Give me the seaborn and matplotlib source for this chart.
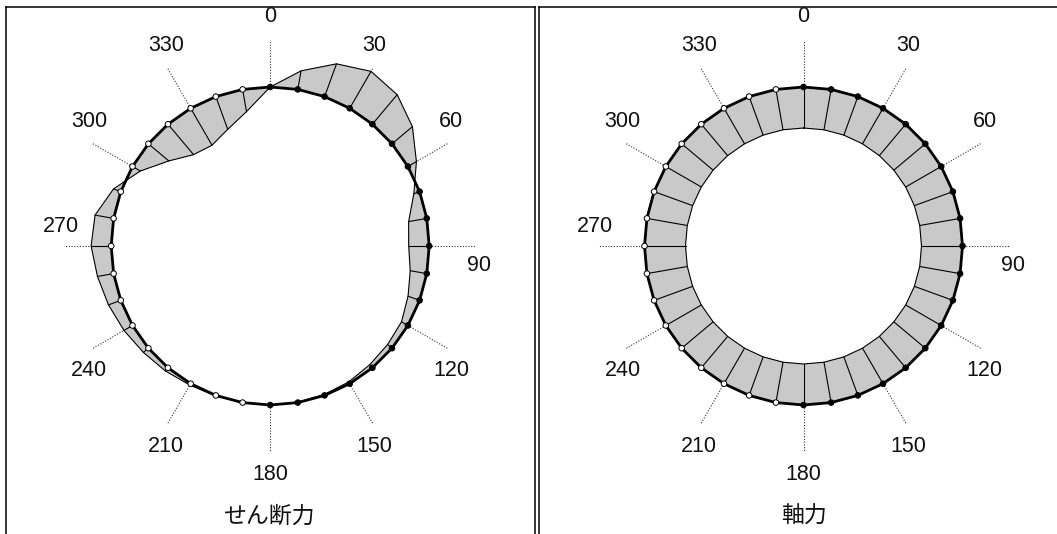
import numpy as np
import pandas as pd
import matplotlib
matplotlib.use("Agg")
import matplotlib.pyplot as plt
import seaborn as sns

# angle around the member section, degrees clockwise from top
angles = [0, 10, 20, 30, 40, 50, 60, 70, 80, 90, 100, 110,
          120, 130, 140, 150, 160, 170, 180, 190, 200, 210, 220, 230,
          240, 250, 260, 270, 280, 290, 300, 310, 320, 330, 340, 350]

# shear force (せん断力)
shear = [0.0, 4.6, 8.5, 10.4, 9.4, 6.5, 2.4, -1.5, -4.5, -5.0, -4.1, -3.0,
         -1.8, -1.4, -1.0, -0.5, -0.25, -0.1, 0.0, 0.05, 0.15, 0.4, 1.0, 1.6,
         2.4, 3.2, 4.0, 4.9, 4.6, 1.9, -2.2, -6.5, -9.7, -10.4, -8.5, -5.5]

# axial force (軸力)
axial = [-10.0, -10.0, -10.0, -10.0, -10.0, -10.0, -10.0, -10.0, -10.0, -10.0, -10.0, -10.0,
         -10.0, -10.0, -10.0, -10.0, -10.0, -10.0, -10.0, -10.0, -10.0, -10.0, -10.0, -10.0,
         -10.0, -10.0, -10.0, -10.0, -10.0, -10.0, -10.0, -10.0, -10.0, -10.0, -10.0, -10.0]

tick_angles = [0, 30, 60, 90, 120, 150, 180, 210, 240, 270, 300, 330]
tick_labels = ["0", "30", "60", "90", "120", "150", "180", "210", "240", "270", "300", "330"]
titles = ["せん断力", "軸力"]

# layout (pixels)
FIG_W, FIG_H = 1057, 534
BASE_R = 159.0      # radius of the reference circle
SCALE = 4.1         # px per force unit
TICK_R = 205.0
LABEL_R = 209.0
LABEL_DY = 20.0
BOX_W = 529.0
BOX_TOP = 7.3
CENTER_Y = 246.0
BOX_LEFTS = [5.7, 539.0]
GRAY = "#c9c9c9"

sns.set_theme(style="white")
plt.rcParams["font.family"] = ["Liberation Sans", "Noto Sans CJK JP", "DejaVu Sans"]


def ring_points(values):
    a = np.radians(np.array(angles, dtype=float))
    v = np.array(values, dtype=float)
    base = np.column_stack([BASE_R * np.sin(a), BASE_R * np.cos(a)])
    r_off = BASE_R + v * SCALE
    off = np.column_stack([r_off * np.sin(a), r_off * np.cos(a)])
    return base, off


def draw_panel(fig, left_px, values, title):
    bottom_px = FIG_H + 20
    height_px = bottom_px - BOX_TOP
    ax = fig.add_axes([left_px / FIG_W, (FIG_H - bottom_px) / FIG_H,
                       BOX_W / FIG_W, height_px / FIG_H])
    cx = BOX_W / 2
    top = CENTER_Y - BOX_TOP

    base, off = ring_points(values)
    n = len(angles)

    # dotted guide lines every 30 degrees
    for a in tick_angles:
        t = np.radians(a)
        ax.plot([BASE_R * np.sin(t), TICK_R * np.sin(t)],
                [BASE_R * np.cos(t), TICK_R * np.cos(t)],
                color="#333333", lw=0.8, ls=(0, (1, 1.5)), zorder=1)

    # gray band between reference circle and force curve
    for i in range(n):
        j = (i + 1) % n
        quad = np.array([base[i], base[j], off[j], off[i]])
        ax.fill(quad[:, 0], quad[:, 1], color=GRAY, lw=0, antialiased=True, zorder=2)

    # radial segments
    for i in range(n):
        ax.plot([base[i, 0], off[i, 0]], [base[i, 1], off[i, 1]],
                color="black", lw=0.8, zorder=3)

    # force curve
    loop = np.vstack([off, off[:1]])
    ax.plot(loop[:, 0], loop[:, 1], color="black", lw=0.8, zorder=3)

    # reference circle
    loop = np.vstack([base, base[:1]])
    ax.plot(loop[:, 0], loop[:, 1], color="black", lw=2.0, zorder=4,
            solid_joinstyle="round")

    df = pd.DataFrame({"x": base[:, 0], "y": base[:, 1],
                       "side": ["right" if a <= 180 else "left" for a in angles]})
    sns.scatterplot(data=df, x="x", y="y", hue="side",
                    palette={"right": "black", "left": "white"},
                    edgecolor="black", linewidth=0.7, s=16, legend=False,
                    zorder=5, ax=ax)

    for a, lab in zip(tick_angles, tick_labels):
        t = np.radians(a)
        dy = LABEL_DY if (a < 90 or a >= 270) else -LABEL_DY
        ax.text(LABEL_R * np.sin(t), LABEL_R * np.cos(t) + dy, lab,
                ha="center", va="center", fontsize=15.5, color="#111111")

    ax.text(0, -(516.5 - CENTER_Y), title, ha="center", va="center",
            fontsize=16.5, family=["Noto Sans CJK JP", "DejaVu Sans"], color="#111111")

    ax.set_xlim(-cx, BOX_W - cx)
    ax.set_ylim(top - height_px, top)
    ax.set_xlabel("")
    ax.set_ylabel("")
    ax.set_xticks([])
    ax.set_yticks([])
    for side in ["top", "left", "right"]:
        ax.spines[side].set_visible(True)
        ax.spines[side].set_color("black")
        ax.spines[side].set_linewidth(1.1)
    ax.spines["bottom"].set_visible(False)
    return ax


fig = plt.figure(figsize=(FIG_W / 100, FIG_H / 100), dpi=100)
fig.patch.set_facecolor("white")
draw_panel(fig, BOX_LEFTS[0], shear, titles[0])
draw_panel(fig, BOX_LEFTS[1], axial, titles[1])
fig.savefig("out.png", dpi=100, facecolor="white")
